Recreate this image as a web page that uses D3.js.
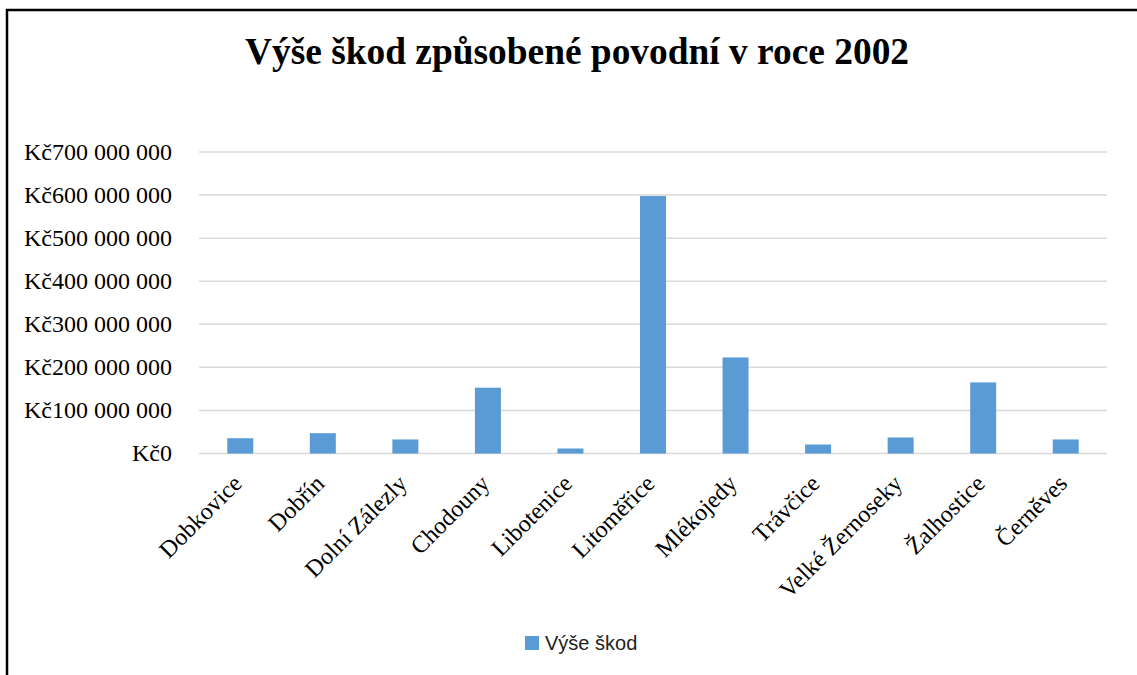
<!DOCTYPE html>
<html><head><meta charset="utf-8">
<script src="https://cdn.jsdelivr.net/npm/d3@7"></script>
<style>html,body{margin:0;padding:0;background:#fff;overflow:hidden}</style>
</head><body>
<svg id="chart" width="1137" height="675"></svg>
<script>
const categories = ["Dobkovice","Dobřín","Dolní Zálezly","Chodouny","Libotenice","Litoměřice","Mlékojedy","Trávčice","Velké Žernoseky","Žalhostice","Černěves"];
const values = [35500000, 47200000, 32600000, 152800000, 11600000, 597700000, 223000000, 20900000, 37200000, 165000000, 32600000];
const yTicks = [0,100000000,200000000,300000000,400000000,500000000,600000000,700000000];
const title = "Výše škod způsobené povodní v roce 2002";
const seriesName = "Výše škod";

(function(){
const svg = d3.select("#chart");
const W = 1137, H = 675;
svg.append("rect").attr("x",0).attr("y",0).attr("width",W).attr("height",H).attr("fill","#fff");
svg.append("rect").attr("x",7).attr("y",10).attr("width",1150).attr("height",700)
  .attr("fill","none").attr("stroke","#000").attr("stroke-width",2.5);

const pLeft = 199, pRight = 1107, pTop = 152, pBottom = 453.5;
const x = d3.scaleBand().domain(categories).range([pLeft,pRight]).padding(0);
const y = d3.scaleLinear().domain([0,700000000]).range([pBottom, pTop]);

const fmt = v => "Kč" + (v===0 ? "0" : d3.format(",")(v).replace(/,/g," "));

const serif = "'Liberation Serif','Times New Roman',serif";
svg.append("g").selectAll("line").data(yTicks).join("line")
  .attr("x1",pLeft).attr("x2",pRight)
  .attr("y1",d=>y(d)).attr("y2",d=>y(d))
  .attr("stroke","#d9d9d9").attr("stroke-width",1.5);

svg.append("g").selectAll("text").data(yTicks).join("text")
  .attr("x",172).attr("y",d=>y(d)).attr("dy","0.33em")
  .attr("text-anchor","end").attr("font-family",serif).attr("font-size",24)
  .attr("fill","#000").text(fmt);

const bw = 26;
svg.append("g").selectAll("rect").data(categories).join("rect")
  .attr("x",d=>x(d)+x.bandwidth()/2-bw/2).attr("width",bw)
  .attr("y",(d,i)=>y(values[i])).attr("height",(d,i)=>y(0)-y(values[i]))
  .attr("fill","#5b9bd5");

svg.append("g").selectAll("text").data(categories).join("text")
  .attr("transform",d=>`translate(${x(d)+x.bandwidth()/2+3},${485}) rotate(-45)`)
  .attr("text-anchor","end").attr("font-family",serif).attr("font-size",24)
  .attr("fill","#000").text(d=>d);

svg.append("text").attr("x",577).attr("y",64).attr("text-anchor","middle")
  .attr("font-family",serif).attr("font-weight","bold").attr("font-size",37.4)
  .attr("fill","#000").text(title);

svg.append("rect").attr("x",525).attr("y",636).attr("width",14).attr("height",14).attr("fill","#5b9bd5");
svg.append("text").attr("x",545).attr("y",650).attr("font-family","'Liberation Sans',Arial,sans-serif")
  .attr("font-size",20).attr("fill","#222").text(seriesName);
})();
</script>
</body></html>
